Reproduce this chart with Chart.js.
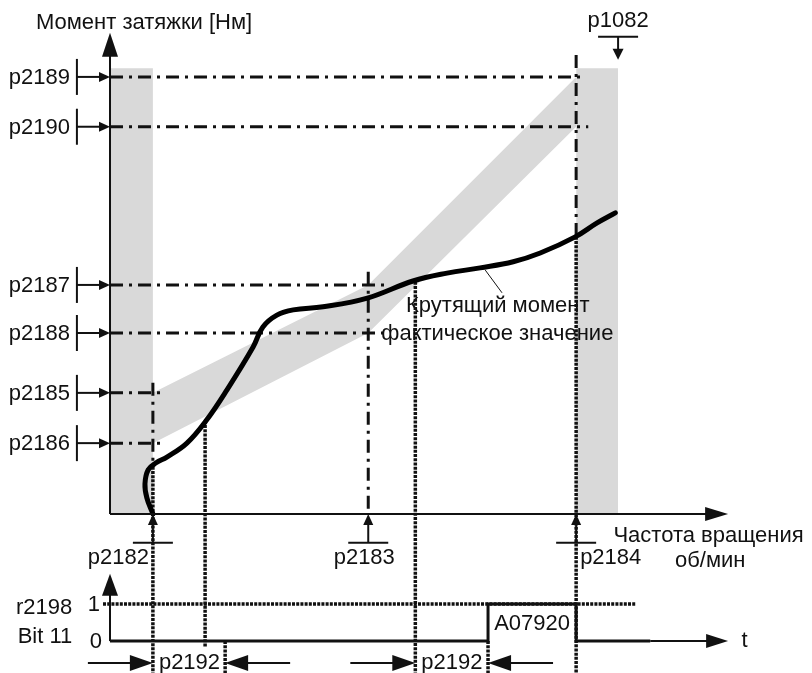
<!DOCTYPE html>
<html>
<head>
<meta charset="utf-8">
<script src="https://cdn.jsdelivr.net/npm/chart.js@4.4.0/dist/chart.umd.min.js"></script>
<style>
  html, body { margin: 0; padding: 0; background: #fff; }
  #wrap { width: 812px; height: 673px; }
</style>
</head>
<body>
<div id="wrap"><canvas id="chart" width="812" height="673"></canvas></div>
<script>
// units: speed 0..100 = origin..p2184, torque 0..100 = origin..p2189
const speedLabels = ['p2182', 'p2183', 'p2184'];
const speedValues = [9.2, 55.4, 100];

const torqueLabels = ['p2189', 'p2190', 'p2187', 'p2188', 'p2185', 'p2186'];
const torqueValues = [100, 88.6, 52.4, 41.4, 27.7, 16.2];
const torqueLineEnd = [102, 102.6, 59, 59, 11.8, 11.8];

// tolerance band edges at p2182 / p2183 / p2184
const bandUpper = [27.7, 52.4, 100];
const bandLower = [16.2, 41.4, 88.6];
const bandTop = 102;
const speedMax = 109; // p1082

// actual torque
const curveSpeed = [9.2, 7.9, 7.5, 8.2, 9.9, 12.2, 16.5, 20.6, 25.1, 30.7, 32.8, 35.8, 39.3, 45.7, 55.2, 65.0, 72.3, 79.4, 86.5, 92.3, 99.8, 104.5, 108.4];
const curveTorque = [0, 3.7, 6.9, 10.1, 11.7, 13.0, 16.2, 21.3, 28.4, 38.2, 42.8, 45.5, 46.7, 47.4, 49.4, 53.3, 55.1, 56.3, 57.7, 59.7, 63.4, 66.6, 68.9];

// guide lines
const dashDotTop = [30.0, 55.4, 105];
const dashDotBottom = [10.8, 0, 63.4];
const dottedSpeed = [9.2, 20.4, 24.7, 65.5, 81.1, 100];
const dottedTop = [10.8, 21.3, -29.1, 53.1, -29.1, 63.4];
const dottedBottom = [-36.4, -30.4, -36.4, -36.4, -36.4, -36.4];

// r2198 bit 11 over time (same horizontal units)
const bitTime = [0, 81.1, 81.1, 100, 100, 115.9];
const bitValue = [0, 0, 1, 1, 0, 0];
const delayStart = [9.2, 65.5];
const delayEnd = [24.7, 81.1];

const grey = '#d9d9d9';
const ink = '#111111';
const level0 = -29.1, level1 = -20.6;
const font = '22px "Liberation Sans", Arial, sans-serif';

function line(points, width, dash, order) {
  return {
    data: points, showLine: true, pointRadius: 0, borderColor: ink,
    borderWidth: width, borderDash: dash || [], fill: false,
    order: order == null ? 1 : order, tension: 0
  };
}

const dashDot = [13, 6, 3, 6];
const dots = [3, 1.2];
const datasets = [];

datasets.push({
  data: speedValues.map((s, i) => ({ x: s, y: bandUpper[i] })),
  showLine: true, pointRadius: 0, borderWidth: 0, backgroundColor: grey, fill: '+1', order: 3
});
datasets.push({
  data: speedValues.map((s, i) => ({ x: s, y: bandLower[i] })),
  showLine: true, pointRadius: 0, borderWidth: 0, fill: false, order: 3
});
datasets.push({
  data: [{ x: 0, y: bandTop }, { x: speedValues[0], y: bandTop }],
  showLine: true, pointRadius: 0, borderWidth: 0, backgroundColor: grey, fill: 'origin', order: 3
});
datasets.push({
  data: [{ x: speedValues[2], y: bandTop }, { x: speedMax, y: bandTop }],
  showLine: true, pointRadius: 0, borderWidth: 0, backgroundColor: grey, fill: 'origin', order: 3
});

torqueValues.forEach((t, i) => {
  datasets.push(line([{ x: 0, y: t }, { x: torqueLineEnd[i], y: t }], 3, dashDot));
});
speedValues.forEach((s, i) => {
  datasets.push(line([{ x: s, y: dashDotTop[i] }, { x: s, y: dashDotBottom[i] }], 3, dashDot));
});
dottedSpeed.forEach((s, i) => {
  datasets.push(line([{ x: s, y: dottedTop[i] }, { x: s, y: dottedBottom[i] }], 3.5, dots));
});
datasets.push(line([{ x: -1.5, y: level1 }, { x: 112.7, y: level1 }], 3.5, dots));
datasets.push(line(bitTime.map((t, i) => ({ x: t, y: level0 + bitValue[i] * (level1 - level0) })), 3, [], 0));

datasets.push({
  data: curveSpeed.map((s, i) => ({ x: s, y: curveTorque[i] })),
  showLine: true, pointRadius: 0, borderColor: '#000', borderWidth: 5,
  tension: 0.4, fill: false, order: 0, borderCapStyle: 'round'
});

function arrow(ctx, x1, y1, x2, y2, len, half) {
  const a = Math.atan2(y2 - y1, x2 - x1);
  ctx.beginPath();
  ctx.moveTo(x1, y1);
  ctx.lineTo(x2 - len * 0.8 * Math.cos(a), y2 - len * 0.8 * Math.sin(a));
  ctx.stroke();
  ctx.beginPath();
  ctx.moveTo(x2, y2);
  ctx.lineTo(x2 - len * Math.cos(a) + half * Math.sin(a), y2 - len * Math.sin(a) - half * Math.cos(a));
  ctx.lineTo(x2 - len * Math.cos(a) - half * Math.sin(a), y2 - len * Math.sin(a) + half * Math.cos(a));
  ctx.closePath();
  ctx.fill();
}

function seg(ctx, x1, y1, x2, y2) {
  ctx.beginPath(); ctx.moveTo(x1, y1); ctx.lineTo(x2, y2); ctx.stroke();
}

const decor = {
  id: 'decor',
  afterDatasetsDraw(chart) {
    const ctx = chart.ctx;
    const X = v => chart.scales.x.getPixelForValue(v);
    const Y = v => chart.scales.y.getPixelForValue(v);
    ctx.save();
    ctx.strokeStyle = ink;
    ctx.fillStyle = ink;
    ctx.lineCap = 'butt';

    // axes
    ctx.lineWidth = 2;
    arrow(ctx, X(0), Y(0), X(0), Y(110.1), 24, 8);
    arrow(ctx, X(0), Y(0), X(132.6), Y(0), 23, 7);
    arrow(ctx, X(0), Y(level0), X(0), Y(-13.7), 22, 8);
    arrow(ctx, X(115.9), Y(level0), X(132.6), Y(level0), 22, 7);

    // torque parameter markers
    ctx.lineWidth = 2;
    torqueValues.forEach(t => {
      seg(ctx, X(-7.1), Y(t) - 18, X(-7.1), Y(t) + 18);
      arrow(ctx, X(-7.1), Y(t), X(0), Y(t), 11, 5);
    });
    // speed parameter markers
    speedValues.forEach(s => {
      seg(ctx, X(s) - 20, Y(-6.6), X(s) + 20, Y(-6.6));
      arrow(ctx, X(s), Y(-6.6), X(s), Y(0), 11, 5);
    });
    // p1082
    seg(ctx, X(speedMax) - 20, Y(109.2), X(speedMax) + 20, Y(109.2));
    arrow(ctx, X(speedMax), Y(109.2), X(speedMax), Y(103.9), 11, 5.5);

    // p2192 delay arrows
    ctx.lineWidth = 2;
    const yd = Y(-34.1);
    delayStart.forEach((s, i) => {
      arrow(ctx, X(s) - 65, yd, X(s), yd, 23, 8);
      arrow(ctx, X(delayEnd[i]) + 65, yd, X(delayEnd[i]), yd, 23, 8);
    });

    // leader line
    ctx.lineWidth = 1;
    seg(ctx, X(80.5), Y(55.8), X(84.1), Y(50.6));

    // texts
    ctx.font = font;
    ctx.textBaseline = 'middle';
    const txt = (s, x, y, align) => { ctx.textAlign = align || 'left'; ctx.fillText(s, x, y); };

    txt('Момент затяжки [Нм]', X(-15.9), 23);
    txt('p1082', X(speedMax), 21, 'center');
    torqueLabels.forEach((l, i) => txt(l, X(-8.6), Y(torqueValues[i]) + 1, 'right'));

    const ys = Y(0) + 44;
    txt(speedLabels[0], X(speedValues[0]) - 4, ys, 'right');
    txt(speedLabels[1], X(speedValues[1]) - 4, ys, 'center');
    txt(speedLabels[2], X(speedValues[2]) + 4, ys, 'left');

    txt('Частота вращения', X(108.0), Y(0) + 22);
    txt('об/мин', X(121.2), Y(0) + 47);

    txt('Крутящий момент', X(63.5), 306);
    txt('фактическое значение', X(58.2), Y(torqueValues[3]) + 1);

    txt('r2198', X(-8.1), 608, 'right');
    txt('Bit 11', X(-8.1), 637, 'right');
    txt('1', X(0) - 10, Y(level1) + 1, 'right');
    txt('0', X(0) - 8, Y(level0) + 1, 'right');
    txt('A07920', (X(bitTime[1]) + X(bitTime[3])) / 2, (Y(level0) + Y(level1)) / 2 + 1, 'center');
    txt('t', X(135.5), Y(level0));
    delayStart.forEach(s => txt('p2192', X(s) + 6, yd, 'left'));

    ctx.restore();
  }
};

new Chart(document.getElementById('chart'), {
  type: 'scatter',
  data: { datasets: datasets },
  options: {
    responsive: false,
    animation: false,
    events: [],
    layout: { padding: 0 },
    scales: {
      x: { type: 'linear', min: -23.6, max: 150.6, display: false },
      y: { type: 'linear', min: -36.4, max: 117.6, display: false }
    },
    plugins: { legend: { display: false }, tooltip: { enabled: false } }
  },
  plugins: [decor]
});
</script>
</body>
</html>
